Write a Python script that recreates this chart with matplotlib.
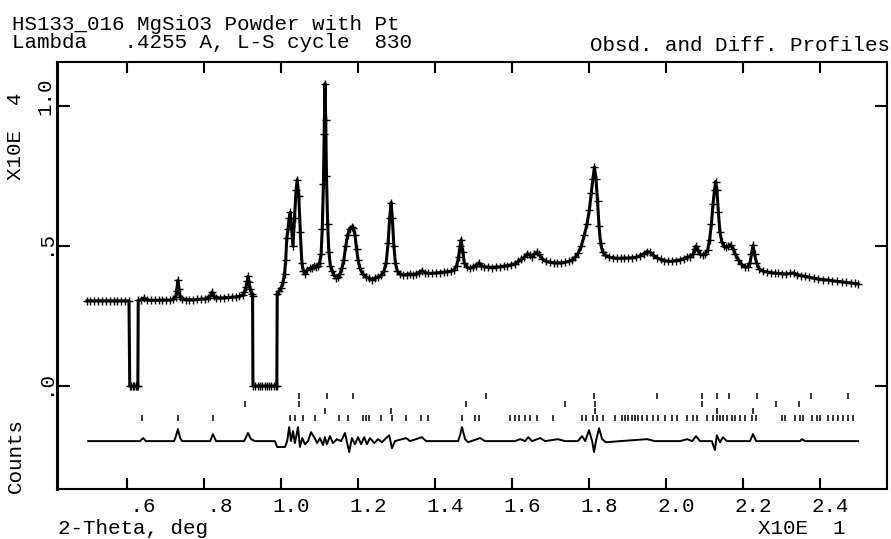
import matplotlib.pyplot as plt
from matplotlib.transforms import ScaledTranslation

# 2-theta in units of 10 deg, intensity in units of 1e4 counts
obs_tth = [0.496, 0.505, 0.515, 0.525, 0.535, 0.545, 0.555, 0.565, 0.575, 0.585, 0.595, 0.605,
           0.607, 0.611, 0.615, 0.619, 0.623, 0.627, 0.628,
           0.629, 0.635, 0.644, 0.652, 0.662, 0.672, 0.682, 0.692, 0.702, 0.712, 0.720,
           0.726, 0.729, 0.732, 0.735, 0.738, 0.742, 0.752, 0.762, 0.772, 0.782, 0.792,
           0.802, 0.810, 0.816, 0.821, 0.826, 0.832, 0.842, 0.852, 0.862, 0.872, 0.882,
           0.892, 0.900, 0.905, 0.909, 0.912, 0.914, 0.917, 0.920, 0.924, 0.926,
           0.927, 0.933, 0.939, 0.945, 0.951, 0.957, 0.963, 0.969, 0.975, 0.981, 0.987, 0.989,
           0.990, 0.995, 1.000, 1.005, 1.009, 1.012, 1.015, 1.018, 1.021, 1.024, 1.027,
           1.031, 1.035, 1.039, 1.042, 1.046, 1.050, 1.054, 1.058, 1.063, 1.068, 1.074,
           1.080, 1.085, 1.090, 1.095, 1.100, 1.104, 1.107, 1.110, 1.112, 1.114, 1.116,
           1.118, 1.121, 1.124, 1.128, 1.133, 1.138, 1.143, 1.148, 1.153, 1.158, 1.163,
           1.168, 1.173, 1.178, 1.183, 1.188, 1.192, 1.196, 1.200, 1.205, 1.212, 1.220,
           1.228, 1.236, 1.244, 1.252, 1.260, 1.267, 1.273, 1.278, 1.282, 1.286, 1.289,
           1.293, 1.297, 1.302, 1.310, 1.318, 1.326, 1.334, 1.342, 1.350, 1.358, 1.366,
           1.374, 1.382, 1.392, 1.402, 1.412, 1.422, 1.432, 1.442, 1.450, 1.456, 1.461,
           1.465, 1.468, 1.472, 1.476, 1.482, 1.490, 1.498, 1.506, 1.514, 1.520, 1.528,
           1.538, 1.548, 1.558, 1.568, 1.578, 1.588, 1.598, 1.608, 1.616, 1.624, 1.632,
           1.640, 1.646, 1.652, 1.658, 1.664, 1.670, 1.678, 1.688, 1.698, 1.708, 1.718,
           1.728, 1.738, 1.748, 1.756, 1.764, 1.772, 1.780, 1.788, 1.795, 1.801, 1.806,
           1.810, 1.814, 1.818, 1.822, 1.826, 1.830, 1.835, 1.842, 1.852, 1.862, 1.872,
           1.882, 1.892, 1.902, 1.912, 1.922, 1.932, 1.942, 1.950, 1.958, 1.966, 1.976,
           1.986, 1.996, 2.006, 2.016, 2.026, 2.036, 2.046, 2.054, 2.062, 2.070, 2.075,
           2.078, 2.082, 2.088, 2.095, 2.102, 2.108, 2.113, 2.118, 2.122, 2.126, 2.129,
           2.132, 2.136, 2.140, 2.145, 2.150, 2.156, 2.162, 2.168, 2.174, 2.180, 2.188,
           2.196, 2.204, 2.212, 2.218, 2.222, 2.226, 2.230, 2.235, 2.242, 2.252, 2.262,
           2.272, 2.282, 2.292, 2.302, 2.312, 2.322, 2.332, 2.340, 2.350, 2.360, 2.372,
           2.384, 2.396, 2.408, 2.420, 2.432, 2.444, 2.456, 2.468, 2.480, 2.490, 2.499]
obs_cnt = [0.304, 0.304, 0.304, 0.304, 0.304, 0.304, 0.304, 0.304, 0.304, 0.304, 0.304, 0.304,
           0.0, 0.0, 0.0, 0.0, 0.0, 0.0, 0.0,
           0.306, 0.307, 0.314, 0.307, 0.306, 0.306, 0.306, 0.307, 0.307, 0.307, 0.309,
           0.318, 0.340, 0.378, 0.345, 0.318, 0.310, 0.308, 0.308, 0.308, 0.309, 0.310,
           0.311, 0.313, 0.320, 0.336, 0.320, 0.314, 0.314, 0.315, 0.316, 0.317, 0.318,
           0.320, 0.325, 0.335, 0.355, 0.375, 0.392, 0.370, 0.345, 0.328, 0.322,
           0.0, 0.0, 0.0, 0.0, 0.0, 0.0, 0.0, 0.0, 0.0, 0.0, 0.0, 0.0,
           0.330, 0.340, 0.350, 0.370, 0.400, 0.450, 0.530, 0.560, 0.600, 0.620, 0.570,
           0.500, 0.600, 0.700, 0.737, 0.680, 0.550, 0.440, 0.410, 0.400, 0.415, 0.420,
           0.420, 0.430, 0.425, 0.430, 0.440, 0.470, 0.560, 0.720, 0.900, 1.080, 0.950,
           0.750, 0.580, 0.480, 0.430, 0.410, 0.395, 0.386, 0.390, 0.400, 0.420, 0.450,
           0.500, 0.540, 0.560, 0.568, 0.565, 0.540, 0.490, 0.450, 0.420, 0.400, 0.390,
           0.385, 0.380, 0.385, 0.390, 0.395, 0.410, 0.440, 0.510, 0.600, 0.655, 0.600,
           0.500, 0.440, 0.410, 0.400, 0.396, 0.398, 0.400, 0.398, 0.400, 0.405, 0.412,
           0.405, 0.402, 0.402, 0.404, 0.405, 0.407, 0.408, 0.410, 0.415, 0.430, 0.460,
           0.500, 0.522, 0.480, 0.440, 0.425, 0.420, 0.425, 0.430, 0.440, 0.430, 0.425,
           0.425, 0.423, 0.425, 0.425, 0.428, 0.430, 0.433, 0.437, 0.445, 0.452, 0.460,
           0.473, 0.468, 0.462, 0.470, 0.478, 0.470, 0.455, 0.445, 0.442, 0.440, 0.440,
           0.440, 0.442, 0.445, 0.450, 0.460, 0.475, 0.500, 0.540, 0.580, 0.630, 0.690,
           0.740, 0.782, 0.740, 0.660, 0.570, 0.510, 0.480, 0.468, 0.460, 0.458, 0.456,
           0.456, 0.457, 0.457, 0.458, 0.460, 0.465, 0.472, 0.480, 0.478, 0.468, 0.458,
           0.452, 0.448, 0.445, 0.446, 0.448, 0.450, 0.455, 0.460, 0.462, 0.470, 0.490,
           0.500, 0.485, 0.470, 0.468, 0.472, 0.485, 0.520, 0.580, 0.650, 0.700, 0.730,
           0.700, 0.620, 0.550, 0.515, 0.500, 0.495, 0.500, 0.505, 0.490, 0.470, 0.450,
           0.435, 0.425, 0.425, 0.440, 0.470, 0.502, 0.470, 0.440, 0.418, 0.410, 0.407,
           0.405, 0.403, 0.402, 0.401, 0.400, 0.402, 0.404, 0.398, 0.394, 0.392, 0.388,
           0.385, 0.382, 0.380, 0.378, 0.376, 0.374, 0.372, 0.370, 0.368, 0.366, 0.364]

# difference curve (obs - calc), same units
diff_tth = [0.499, 0.634, 0.642, 0.649, 0.722, 0.727, 0.732, 0.738, 0.743, 0.816, 0.823, 0.831,
            0.904, 0.909, 0.914, 0.922, 0.932, 0.984, 0.990, 1.010, 1.016, 1.021, 1.026,
            1.031, 1.036, 1.044, 1.049, 1.055, 1.062, 1.070, 1.078, 1.086, 1.094, 1.101,
            1.109, 1.114, 1.119, 1.127, 1.135, 1.145, 1.156, 1.166, 1.177, 1.184, 1.192,
            1.200, 1.208, 1.216, 1.223, 1.231, 1.242, 1.252, 1.262, 1.273, 1.281, 1.288,
            1.296, 1.325, 1.335, 1.366, 1.377, 1.460, 1.465, 1.470, 1.478, 1.486, 1.517,
            1.530, 1.608, 1.621, 1.634, 1.642, 1.652, 1.673, 1.686, 1.719, 1.738, 1.771,
            1.782, 1.790, 1.800, 1.808, 1.813, 1.818, 1.826, 1.834, 1.844, 1.881, 1.951,
            1.971, 2.036, 2.055, 2.068, 2.078, 2.088, 2.119, 2.127, 2.132, 2.140, 2.148,
            2.158, 2.218, 2.226, 2.234, 2.348, 2.353, 2.361, 2.499]
diff_cnt = [0.0, 0.0, 0.011, 0.0, 0.0, 0.018, 0.043, 0.011, 0.0, 0.0, 0.025, 0.0,
            0.0, 0.014, 0.029, 0.007, 0.0, 0.0, -0.021, -0.021, 0.0, 0.050, 0.0,
            0.036, -0.007, 0.050, -0.021, 0.011, -0.011, 0.0, 0.032, 0.014, -0.007, 0.011,
            -0.014, 0.014, -0.011, 0.018, -0.007, 0.007, 0.0, 0.029, -0.039, 0.011, -0.011,
            0.014, -0.011, 0.014, -0.011, 0.011, -0.007, 0.007, -0.004, 0.011, 0.021, -0.025,
            0.0, 0.011, 0.0, 0.014, 0.0, 0.0, 0.021, 0.050, 0.007, -0.004, 0.011,
            0.0, 0.0, 0.007, 0.0, 0.014, 0.0, 0.011, 0.0, 0.007, 0.0, 0.0,
            0.018, 0.0, 0.039, 0.0, -0.039, 0.0, 0.046, 0.007, -0.004, 0.0, 0.007,
            0.0, 0.0, 0.007, 0.0, 0.018, 0.0, 0.0, -0.032, 0.021, -0.004, 0.014,
            0.0, 0.0, 0.025, 0.0, 0.0, 0.007, 0.0, 0.0]

# reflection markers, four rows
refl_a = [1.047, 1.119, 1.187, 1.532, 1.813, 1.977, 2.094, 2.132, 2.164, 2.236, 2.377, 2.473]
refl_b = [0.906, 1.047, 1.481, 1.738, 1.816, 2.094, 2.286, 2.345]
refl_c = [1.114, 1.286, 1.816, 2.132, 2.226]
refl_d = [0.639, 0.732, 0.823, 1.023, 1.036, 1.057, 1.088, 1.151, 1.174, 1.213, 1.221,
          1.229, 1.260, 1.288, 1.325, 1.364, 1.382, 1.470, 1.504, 1.514, 1.595, 1.608,
          1.618, 1.634, 1.647, 1.665, 1.706, 1.782, 1.792, 1.810, 1.821, 1.836, 1.868,
          1.886, 1.894, 1.901, 1.912, 1.920, 1.927, 1.938, 1.951, 1.966, 1.979, 1.997,
          2.016, 2.029, 2.055, 2.070, 2.081, 2.107, 2.122, 2.132, 2.140, 2.148, 2.158,
          2.171, 2.179, 2.192, 2.205, 2.223, 2.234, 2.301, 2.309, 2.335, 2.348, 2.356,
          2.379, 2.392, 2.400, 2.421, 2.434, 2.447, 2.460, 2.473, 2.486]

xticks = [0.6, 0.8, 1.0, 1.2, 1.4, 1.6, 1.8, 2.0, 2.2, 2.4]
xticklabels = [' .6', ' .8', '1.0', '1.2', '1.4', '1.6', '1.8', '2.0', '2.2', '2.4']
yticks = [0.0, 0.5, 1.0]
yticklabels = ['.0', '.5', '1.0']

plt.rcParams['font.family'] = ['Liberation Mono', 'DejaVu Sans Mono']
plt.rcParams['font.size'] = 15

fig = plt.figure(figsize=(8.91, 5.39), dpi=100)
ax = fig.add_axes([57 / 891, 50 / 539, 830 / 891, 427 / 539])

# observed points: thick line + small crosses, like the dense GSAS plot
ax.plot(obs_tth, obs_cnt, color='black', lw=2.2, marker='+', ms=6, mew=1.0)

# difference curve drawn below the tick rows
diff_offset = -0.197
ax.plot(diff_tth, [v + diff_offset for v in diff_cnt], color='black', lw=1.4)

# reflection tick rows
for pos, yc in [(refl_a, -0.036), (refl_b, -0.064), (refl_c, -0.089), (refl_d, -0.114)]:
    ax.vlines(pos, yc - 0.012, yc + 0.012, color='black', lw=1.1)

ax.set_xlim(0.418, 2.574)
ax.set_ylim(-0.368, 1.157)

ax.set_xticks(xticks)
ax.set_xticklabels(xticklabels, ha='left')
ax.set_yticks(yticks)
ax.set_yticklabels(yticklabels, rotation=90, ha='right', va='bottom')
ax.tick_params(axis='x', direction='in', length=8, width=1.5, top=True, pad=6)
ax.tick_params(axis='y', direction='in', length=9, width=1.5, right=True, pad=2)

px = 1 / 100
for lab in ax.get_xticklabels():
    lab.set_transform(lab.get_transform() + ScaledTranslation(-9 * px, 0, fig.dpi_scale_trans))
for lab in ax.get_yticklabels():
    lab.set_transform(lab.get_transform() + ScaledTranslation(0, -9 * px, fig.dpi_scale_trans))

for side in ['top', 'right', 'bottom']:
    ax.spines[side].set_linewidth(1.5)
ax.spines['left'].set_linewidth(2.2)

# header and axis captions
fig.text(12 / 891, 1 - 30 / 539, 'HS133_016 MgSiO3 Powder with Pt', va='baseline')
fig.text(12 / 891, 1 - 48 / 539, 'Lambda   .4255 A, L-S cycle  830', va='baseline')
fig.text(890 / 891, 1 - 51 / 539, 'Obsd. and Diff. Profiles', ha='right', va='baseline')
fig.text(58 / 891, 1 - 534 / 539, '2-Theta, deg', va='baseline')
fig.text(758 / 891, 1 - 534 / 539, 'X10E  1', va='baseline')
fig.text(25 / 891, 1 - 180 / 539, 'X10E  4', rotation=90, ha='right', va='bottom')
fig.text(25 / 891, 1 - 493 / 539, 'Counts', rotation=90, ha='right', va='bottom')

fig.savefig('out.png', dpi=100)
